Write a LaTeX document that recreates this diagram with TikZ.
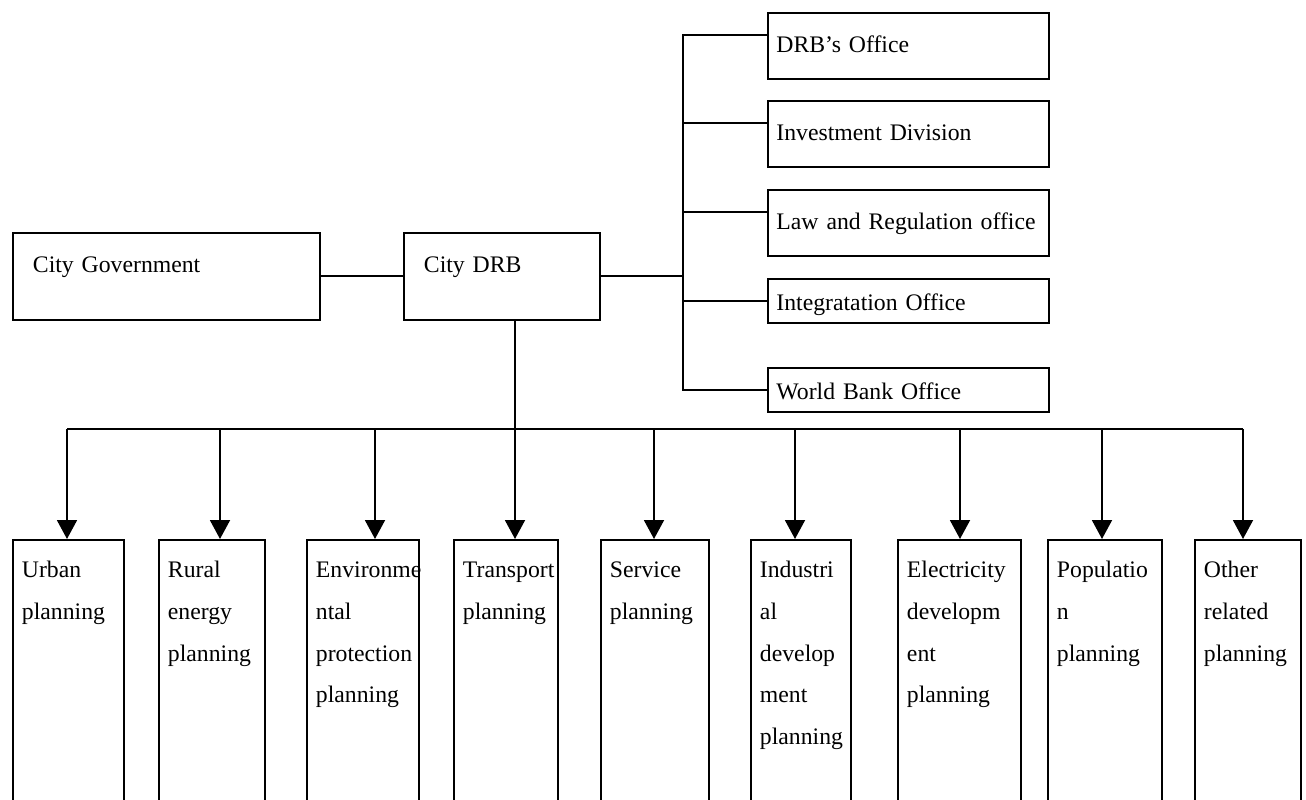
\documentclass[tikz,border=0pt]{standalone}
\usepackage{fontspec}
\setmainfont{Liberation Serif}
\usetikzlibrary{arrows.meta}
\begin{document}
\begin{tikzpicture}[x=0.02cm,y=-0.02cm,line width=1.1pt,
  every node/.style={font=\fontsize{13.5pt}{23.7pt}\selectfont},
  main box/.style={draw,anchor=north west,align=left,inner xsep=0.4cm,inner ysep=0pt,text height=0.8cm,text depth=0.94cm},
  office box/.style={draw,anchor=north west,align=left,inner xsep=0.17cm,inner ysep=0pt,text width=5.28cm,text height=0.79cm,text depth=0.53cm},
  short office/.style={office box,text height=0.63cm,text depth=0.26cm},
  plan box/.style={draw,anchor=north west,align=left,inner xsep=0.18cm,inner ysep=0pt,text height=0.76cm,text depth=5.24cm},
  arr/.style={-{Triangle[width=0.4cm,length=0.38cm]}}]
  \useasboundingbox (0,0) rectangle (1306,800);
  \clip (0,0) rectangle (1306,800);

  \node[main box,text width=5.34cm] (gov) at (12,232) {City Government};
  \node[main box,text width=3.12cm] (drb) at (403,232) {City DRB};

  \node[office box] (o1) at (767,12) {DRB’s Office};
  \node[office box] (o2) at (767,100) {Investment Division};
  \node[office box] (o3) at (767,189) {Law and Regulation office};
  \node[short office] (o4) at (767,278) {Integratation Office};
  \node[short office] (o5) at (767,367) {World Bank Office};

  \node[plan box,text width=1.86cm] (p1) at (12,539) {Urban\\planning};
  \node[plan box,text width=1.76cm] (p2) at (158,539) {Rural\\energy\\planning};
  \node[plan box,text width=1.88cm] (p3) at (306,539) {Environme\\ntal\\protection\\planning};
  \node[plan box,text width=1.72cm] (p4) at (453,539) {Transport\\planning};
  \node[plan box,text width=1.80cm] (p5) at (600,539) {Service\\planning};
  \node[plan box,text width=1.64cm] (p6) at (750,539) {Industri\\al\\develop\\ment\\planning};
  \node[plan box,text width=2.10cm] (p7) at (897,539) {Electricity\\developm\\ent\\planning};
  \node[plan box,text width=1.92cm] (p8) at (1047,539) {Populatio\\n\\planning};
  \node[plan box,text width=1.76cm] (p9) at (1194,539) {Other\\related\\planning};

  \coordinate (trunk) at (683,275.5);
  \coordinate (a1) at (67,429);
  \coordinate (a2) at (220,429);
  \coordinate (a3) at (375,429);
  \coordinate (a4) at (515,429);
  \coordinate (a5) at (654,429);
  \coordinate (a6) at (795,429);
  \coordinate (a7) at (960,429);
  \coordinate (a8) at (1102,429);
  \coordinate (a9) at (1243,429);

  \draw (gov.east) -- (drb.west);
  \draw (drb.east) -- (drb.east -| trunk);
  \draw ([yshift=0.22cm]o1.west) -| (trunk) |- (o5.west);
  \draw ([yshift=0.22cm]o2.west) -- ++(-84,0);
  \draw ([yshift=0.22cm]o3.west) -- ++(-84,0);
  \draw (o4.west) -- ++(-84,0);

  \draw (drb.south -| a4) -- (a4);
  \draw (a1) -- (a9);
  \foreach \a/\p in {a1/p1,a2/p2,a3/p3,a4/p4,a5/p5,a6/p6,a7/p7,a8/p8,a9/p9}
    \draw[arr] (\a) -- (\a |- \p.north);
\end{tikzpicture}
\end{document}
